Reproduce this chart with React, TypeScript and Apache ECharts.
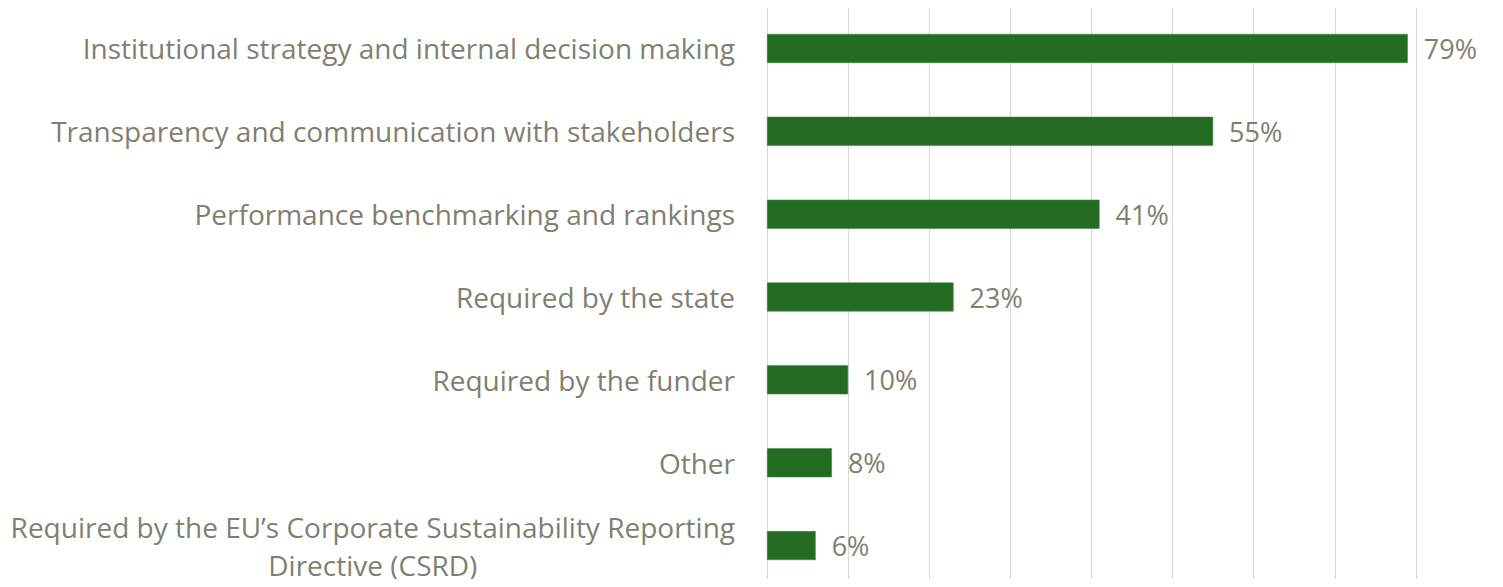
import React, { useEffect, useRef } from "react";
import * as echarts from "echarts";

const categories = [
  "Institutional strategy and internal decision making",
  "Transparency and communication with stakeholders",
  "Performance benchmarking and rankings",
  "Required by the state",
  "Required by the funder",
  "Other",
  "Required by the EU\u2019s Corporate Sustainability Reporting\nDirective (CSRD)",
];
const values = [79, 55, 41, 23, 10, 8, 6];

const FONT = "Open Sans";
const TEXT_COLOR = "#7f7f72";

export default function App() {
  const ref = useRef<HTMLDivElement>(null);
  useEffect(() => {
    if (!ref.current) return;
    const chart = echarts.init(ref.current, undefined, { renderer: "svg" });
    chart.setOption({
      animation: false,
      grid: { left: 767, right: 6, top: 7, height: 586, containLabel: false },
      xAxis: {
        type: "value",
        min: 0,
        max: 90,
        interval: 10,
        axisLabel: { show: false },
        axisLine: { show: false },
        axisTick: { show: false },
        splitLine: { show: true, lineStyle: { color: "#d9d9d9", width: 1 } },
      },
      yAxis: {
        type: "category",
        inverse: true,
        data: categories,
        axisLine: { show: false },
        axisTick: { show: false },
        axisLabel: {
          margin: 32,
          formatter: (v: string) =>
            v
              .split("\n")
              .map((l) => `{c|${l}}`)
              .join("\n"),
          rich: {
            c: {
              align: "center",
              fontFamily: FONT,
              fontSize: 28,
              color: TEXT_COLOR,
              lineHeight: 38,
            },
          },
        },
      },
      series: [
        {
          type: "bar",
          data: values,
          barWidth: "35%",
          itemStyle: { color: "#246b24", borderColor: "#3a8a3a", borderWidth: 0.5 },
          label: {
            show: true,
            position: "right",
            distance: 16,
            formatter: "{c}%",
            fontFamily: FONT,
            fontSize: 27,
            color: TEXT_COLOR,
          },
        },
      ],
    });
    return () => chart.dispose();
  }, []);
  return <div ref={ref} style={{ width: 1503, height: 587, margin: -8 }} />;
}
